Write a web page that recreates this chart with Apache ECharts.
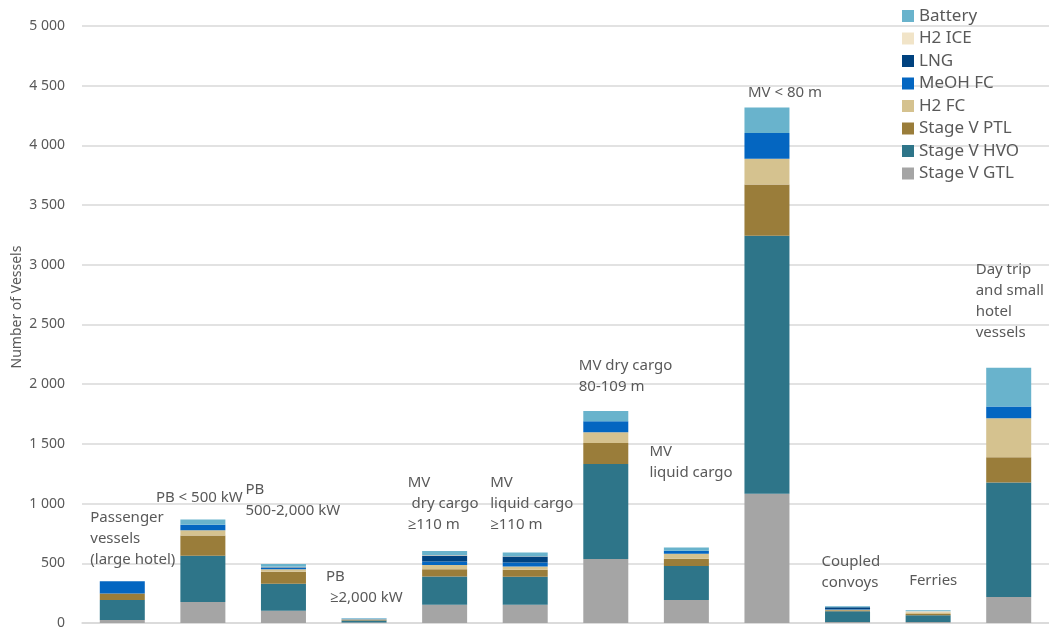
<!DOCTYPE html>
<html>
<head>
<meta charset="utf-8">
<script src="https://cdn.jsdelivr.net/npm/echarts@6/dist/echarts.min.js"></script>
<style>
html,body{margin:0;padding:0;background:#fff;}
#chart{width:1049px;height:630px;}
</style>
</head>
<body>
<div id="chart"></div>
<script>
// ---- data ----
var categories = [
  "Passenger vessels (large hotel)", "PB < 500 kW", "PB 500-2,000 kW", "PB ≥2,000 kW",
  "MV dry cargo ≥110 m", "MV liquid cargo ≥110 m", "MV dry cargo 80-109 m", "MV liquid cargo",
  "MV < 80 m", "Coupled convoys", "Ferries", "Day trip and small hotel vessels"
];
var gtl     = [25, 176, 103, 5, 153, 153, 535, 192, 1083, 8, 8, 217];
var hvo     = [167, 387, 226, 15, 237, 234, 797, 285, 2161, 90, 56, 959];
var ptl     = [56, 170, 100, 8, 61, 59, 175, 61, 429, 8, 11, 212];
var h2fc    = [0, 44, 22, 4, 34, 28, 90, 42, 215, 5, 14, 326];
var meohfc  = [101, 45, 11, 3, 31, 33, 92, 25, 215, 4, 0, 100];
var lng     = [0, 0, 5, 0, 50, 50, 0, 0, 0, 16, 0, 0];
var h2ice   = [0, 0, 5, 0, 3, 3, 0, 0, 0, 0, 9, 0];
var battery = [0, 45, 22, 5, 33, 31, 86, 28, 214, 9, 8, 324];
var seriesNames = ["Stage V GTL", "Stage V HVO", "Stage V PTL", "H2 FC", "MeOH FC", "LNG", "H2 ICE", "Battery"];
var legendOrder = ["Battery", "H2 ICE", "LNG", "MeOH FC", "H2 FC", "Stage V PTL", "Stage V HVO", "Stage V GTL"];
var yTicks = [0, 500, 1000, 1500, 2000, 2500, 3000, 3500, 4000, 4500, 5000];
var labelTexts = [
  "Passenger\nvessels\n(large hotel)", "PB < 500 kW", "PB\n500-2,000 kW", "PB\n ≥2,000 kW",
  "MV\n dry cargo\n≥110 m", "MV\nliquid cargo\n≥110 m", "MV dry cargo\n80-109 m", "MV\nliquid cargo",
  "MV < 80 m", "Coupled\nconvoys", "Ferries", "Day trip\nand small\nhotel\nvessels"
];
var axisTitle = "Number of Vessels";

// ---- layout / style (not data) ----
var colors = ["#A5A5A5", "#2E7589", "#9A7D3A", "#D5C28F", "#0466C1", "#00427F", "#F1E4C8", "#69B3CC"];
var labelDx  = [-32, -47, -38, -38, -37, -35, -27, -37, -19, -26, -19, -33];
var labelTop = [507, 487, 479, 566, 472, 472, 355, 441, 82, 551, 570, 259];
var LH = 21;

var seriesData = [gtl, hvo, ptl, h2fc, meohfc, lng, h2ice, battery];
var series = seriesNames.map(function (n, i) {
  return {
    name: n, type: 'bar', stack: 'total', barWidth: 45,
    itemStyle: { color: colors[i] },
    emphasis: { disabled: true },
    data: seriesData[i]
  };
});

var chart = echarts.init(document.getElementById('chart'), null, { renderer: 'canvas' });
var FONT = '"Noto Sans", "Open Sans", sans-serif';
chart.setOption({
  animation: false,
  backgroundColor: '#ffffff',
  textStyle: { fontFamily: FONT },
  grid: { left: 82, top: 26, height: 598, width: 972, containLabel: false },
  legend: {
    data: legendOrder, orient: 'vertical', left: 902, top: 6, padding: 0,
    itemWidth: 12, itemHeight: 12, itemGap: 2.5, icon: 'rect',
    textStyle: { fontSize: 17, lineHeight: 20, color: '#595959', fontFamily: FONT },
    selectedMode: false
  },
  xAxis: {
    type: 'category', data: categories, boundaryGap: true,
    axisLine: { show: true, lineStyle: { color: '#D9D9D9', width: 1.5 } },
    axisTick: { show: false }, axisLabel: { show: false }
  },
  yAxis: {
    type: 'value', min: yTicks[0], max: yTicks[yTicks.length - 1], interval: yTicks[1] - yTicks[0],
    axisLine: { show: false }, axisTick: { show: false },
    splitLine: { lineStyle: { color: '#D9D9D9', width: 1.5 } },
    axisLabel: {
      fontSize: 14, color: '#595959', margin: 17, fontFamily: FONT,
      formatter: function (v) { return String(v).replace(/\B(?=(\d{3})+(?!\d))/g, ' '); }
    }
  },
  series: series
});

var graphics = [];
categories.forEach(function (c, i) {
  var cx = chart.convertToPixel({ xAxisIndex: 0 }, c);
  graphics.push({
    type: 'text', left: cx + labelDx[i], top: labelTop[i], silent: true,
    style: { text: labelTexts[i], fill: '#595959', font: '15px ' + FONT, lineHeight: LH }
  });
});
graphics.push({
  type: 'text', x: 17, y: 307, rotation: Math.PI / 2, silent: true,
  style: { text: axisTitle, fill: '#595959', font: '14px ' + FONT, align: 'center', verticalAlign: 'middle' }
});
chart.setOption({ graphic: graphics });
</script>
</body>
</html>
